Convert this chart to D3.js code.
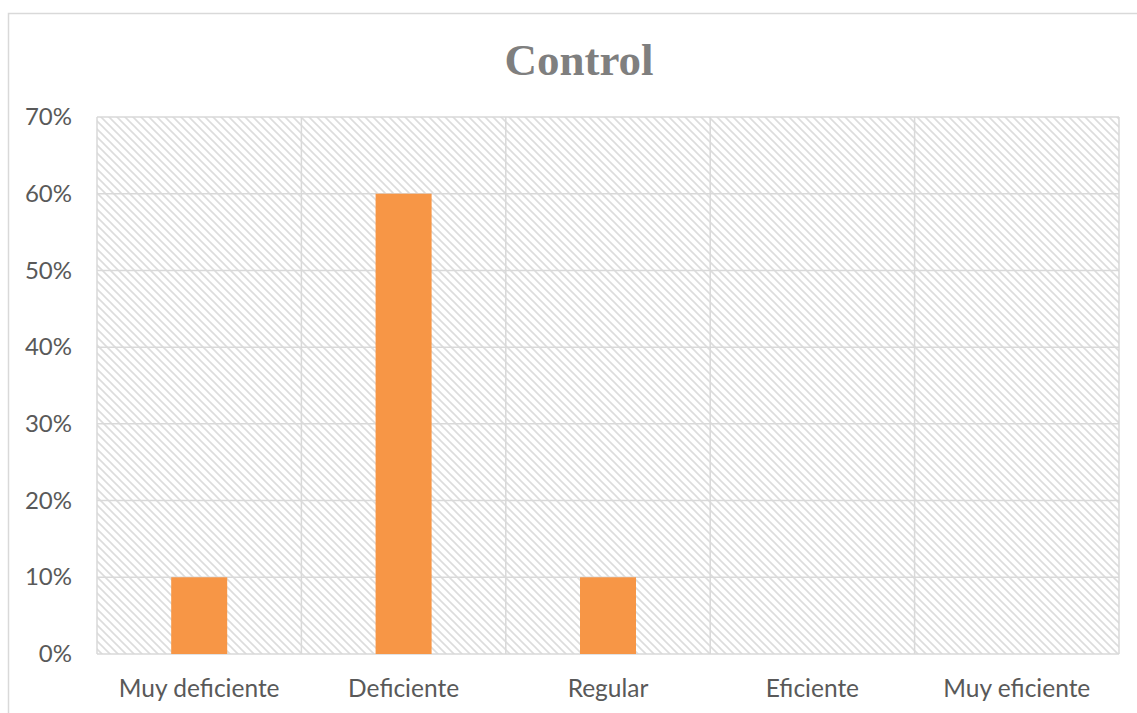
<!DOCTYPE html>
<html>
<head>
<meta charset="utf-8">
<script src="https://cdn.jsdelivr.net/npm/d3@7"></script>
<style>
  html, body { margin: 0; padding: 0; background: #fff; }
  svg { display: block; }
</style>
</head>
<body>
<svg id="chart" width="1137" height="713"></svg>
<script>
// Chart data
const categories = ["Muy deficiente", "Deficiente", "Regular", "Eficiente", "Muy eficiente"];
const values = [0.10, 0.60, 0.10, 0, 0];
const yTicks = [0, 0.1, 0.2, 0.3, 0.4, 0.5, 0.6, 0.7];
const chartTitle = "Control";

const svg = d3.select("#chart");
const W = 1137, H = 713;
const plot = { left: 97, top: 117, right: 1119, bottom: 654 };

// Outer chart frame (runs past the right and bottom edges)
svg.append("rect")
  .attr("x", 8.5).attr("y", 13.5)
  .attr("width", W + 20).attr("height", H + 20)
  .attr("fill", "#fff")
  .attr("stroke", "#d9d9d9").attr("stroke-width", 1.5);

// Diagonal hatch used as plot-area fill
const defs = svg.append("defs");
const P = 8;
const pat = defs.append("pattern")
  .attr("id", "hatch")
  .attr("patternUnits", "userSpaceOnUse")
  .attr("width", P).attr("height", P);
pat.append("rect").attr("width", P).attr("height", P).attr("fill", "#fff");
pat.append("path")
  .attr("d", `M-1,-1 L${P + 1},${P + 1} M${-P / 2 - 1},${P / 2 - 1} L${P / 2 + 1},${3 * P / 2 + 1} M${P / 2 - 1},${-P / 2 - 1} L${3 * P / 2 + 1},${P / 2 + 1}`)
  .attr("stroke", "#dcdcdc").attr("stroke-width", 1.6);

const x = d3.scaleBand()
  .domain(categories)
  .range([plot.left, plot.right])
  .paddingInner(0).paddingOuter(0);

const y = d3.scaleLinear()
  .domain([0, 0.7])
  .range([plot.bottom, plot.top]);

svg.append("rect")
  .attr("x", plot.left).attr("y", plot.top)
  .attr("width", plot.right - plot.left)
  .attr("height", plot.bottom - plot.top)
  .attr("fill", "url(#hatch)");

// Horizontal gridlines
svg.append("g")
  .selectAll("line")
  .data(yTicks)
  .join("line")
  .attr("x1", plot.left).attr("x2", plot.right)
  .attr("y1", d => y(d)).attr("y2", d => y(d))
  .attr("stroke", "#d9d9d9").attr("stroke-width", 1.5);

// Vertical gridlines at category boundaries
const bounds = categories.map(c => x(c)).concat([x.range()[1]]);
svg.append("g")
  .selectAll("line")
  .data(bounds)
  .join("line")
  .attr("x1", d => d).attr("x2", d => d)
  .attr("y1", plot.top).attr("y2", plot.bottom)
  .attr("stroke", "#d9d9d9").attr("stroke-width", 1.5);

// Bars
const barW = x.bandwidth() * 0.274;
svg.append("g")
  .selectAll("rect")
  .data(categories.map((c, i) => ({ c, v: values[i] })))
  .join("rect")
  .attr("x", d => x(d.c) + x.bandwidth() / 2 - barW / 2)
  .attr("y", d => y(d.v))
  .attr("width", barW)
  .attr("height", d => y(0) - y(d.v))
  .attr("fill", "#f79646");

// Y axis labels
const yAxis = d3.axisLeft(y)
  .tickValues(yTicks)
  .tickFormat(d3.format(".0%"))
  .tickSize(0)
  .tickPadding(25);
const gy = svg.append("g")
  .attr("transform", `translate(${plot.left},0)`)
  .call(yAxis);
gy.select(".domain").remove();
gy.selectAll("text")
  .attr("fill", "#595959")
  .style("font-family", "Lato, 'Open Sans', sans-serif")
  .style("font-size", "24px");

// X axis labels
const xAxis = d3.axisBottom(x).tickSize(0).tickPadding(26);
const gx = svg.append("g")
  .attr("transform", `translate(0,${plot.bottom})`)
  .call(xAxis);
gx.select(".domain").remove();
gx.selectAll("text")
  .attr("fill", "#595959")
  .style("font-family", "Lato, 'Open Sans', sans-serif")
  .style("font-size", "24.5px");

// Title
svg.append("text")
  .attr("x", 579)
  .attr("y", 75)
  .attr("text-anchor", "middle")
  .attr("fill", "#7f7f7f")
  .style("font-family", "'Liberation Serif', serif")
  .style("font-weight", "bold")
  .style("font-size", "45px")
  .text(chartTitle);
</script>
</body>
</html>
